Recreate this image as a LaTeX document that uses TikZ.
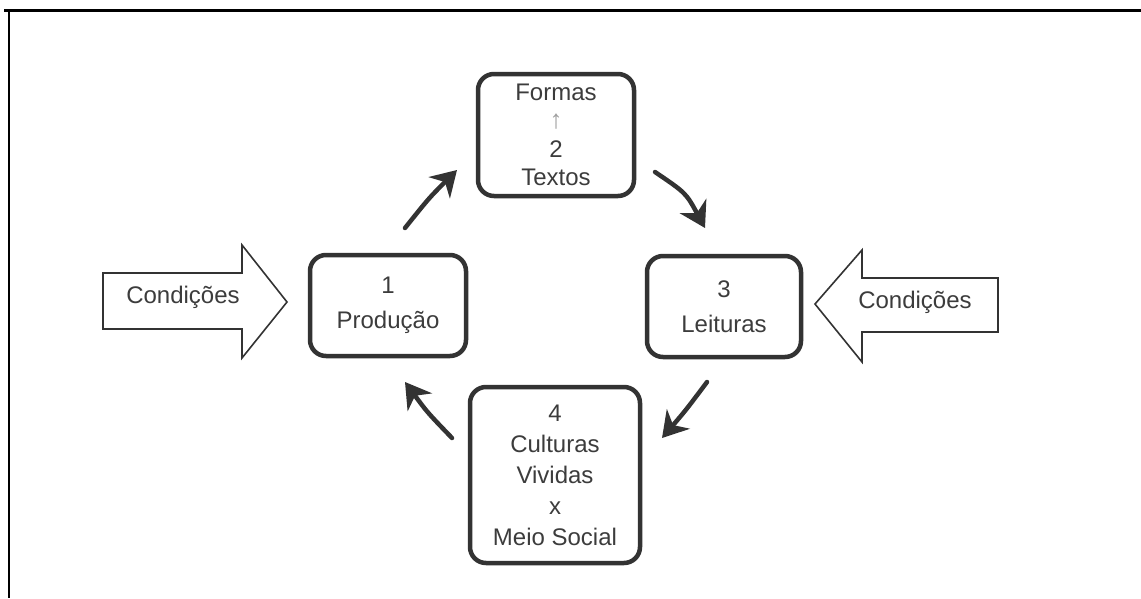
\documentclass[tikz,border=0pt]{standalone}
\usepackage{fontspec}
\setmainfont{Liberation Sans}
\usetikzlibrary{arrows.meta}
\definecolor{ink}{HTML}{333333}
\definecolor{txt}{HTML}{3C3C3C}
\tikzset{
  stagebox/.style={draw=ink, line width=4.5pt, rounded corners=16pt, inner sep=0pt, align=center, text=txt},
  cycarrow/.style={draw=ink, line width=4.5pt, line cap=round, -{Stealth[length=25pt,width=30pt,inset=8pt]}},
  blockarrow/.style={draw=ink, line width=1.6pt, line join=miter, fill=white},
  labeltxt/.style={text=txt, font=\fontsize{24}{28}\selectfont, inner sep=0pt}
}
\begin{document}
\begin{tikzpicture}[x=1pt,y=-1pt]
\useasboundingbox (0,0) rectangle (1141,598);
% frame
\draw[line width=2.8pt] (4,10.5) -- (1141,10.5);
\draw[line width=2.8pt] (9,10.5) -- (9,598);
% boxes
\node[stagebox, minimum width=156pt, minimum height=101pt, font=\fontsize{24}{35}\selectfont] (b1) at (388,305.5) {1\\Produção};
\node[stagebox, minimum width=156pt, minimum height=122pt, font=\fontsize{24}{28.5}\selectfont] (b2) at (556,135) {Formas\\{\fontsize{26}{26}\selectfont\color{gray!75}↑}\\2\\Textos};
\node[stagebox, minimum width=154pt, minimum height=101pt, font=\fontsize{24}{35}\selectfont] (b3) at (724,306.5) {3\\Leituras};
\node[stagebox, minimum width=170pt, minimum height=176pt, font=\fontsize{24}{31}\selectfont] (b4) at (555,475) {4\\Culturas\\Vividas\\x\\Meio Social};
% block arrows
\draw[blockarrow] (103,273) -- (242,273) -- (242,245) -- (287,302) -- (242,358) -- (242,329) -- (103,329) -- cycle;
\node[labeltxt] (cl) at (183,297) {Condições};
\draw[blockarrow] (998,278) -- (862,278) -- (862,250) -- (815,304) -- (862,362) -- (862,332) -- (998,332) -- cycle;
\node[labeltxt] (cr) at (915,302) {Condições};
% cycle arrows
\coordinate (a12s) at (405,228); \coordinate (a12e) at (457,170);
\coordinate (a23s) at (655,172); \coordinate (a23e) at (705,228);
\coordinate (a34s) at (707,382); \coordinate (a34e) at (662,438);
\coordinate (a41s) at (452,438); \coordinate (a41e) at (405,382);
\draw[cycarrow] (a12s) .. controls (429,198) .. (a12e);
\draw[cycarrow] (a23s) .. controls (686,193) .. (a23e);
\draw[cycarrow] (a34s) .. controls (686,410) .. (a34e);
\draw[cycarrow] (a41s) .. controls (427,412) .. (a41e);
\end{tikzpicture}
\end{document}
